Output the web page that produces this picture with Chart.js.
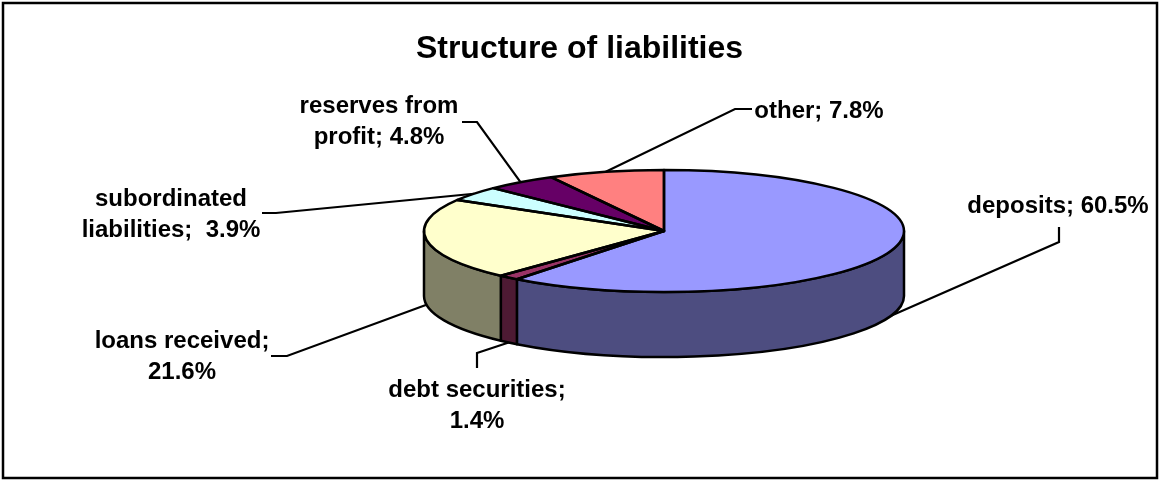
<!DOCTYPE html>
<html>
<head>
<meta charset="utf-8">
<title>Structure of liabilities</title>
<script src="https://cdn.jsdelivr.net/npm/chart.js@4/dist/chart.umd.min.js"></script>
<style>
  html, body { margin: 0; padding: 0; background: #fff; }
  canvas { display: block; }
</style>
</head>
<body>
<canvas id="pieChart" width="1159" height="480"></canvas>
<script>
// chart data
const categories = ['deposits', 'debt securities', 'loans received', 'subordinated liabilities', 'reserves from profit', 'other'];
const shares = [60.5, 1.4, 21.6, 3.9, 4.8, 7.8];
const labelLines = [
    ['deposits; 60.5%'],
    ['debt securities;', '1.4%'],
    ['loans received;', '21.6%'],
    ['subordinated', 'liabilities;  3.9%'],
    ['reserves from', 'profit; 4.8%'],
    ['other; 7.8%']
];

// styles
const topColors = ['#9999FF', '#993366', '#FFFFCC', '#CCFFFF', '#660066', '#FF8080'];
const sideColors = ['#4D4D80', '#4D1A33', '#808066', '#668080', '#330033', '#804040'];

// 3d pie geometry (top ellipse + wall depth)
const geo = { cx: 664, cy: 231, rx: 240, ry: 61, depth: 65 };

// label boxes: text centre, first baseline, leader elbow and leader end near text
const labelPos = [
    { x: 1058, y: 213, elbow: [1059, 242], end: [1059, 227] },
    { x: 477, y: 397, elbow: [477, 353], end: [477, 368] },
    { x: 182, y: 348, elbow: [287, 356], end: [271, 356] },
    { x: 171, y: 206, elbow: [276, 213], end: [262, 213] },
    { x: 379, y: 113, elbow: [477, 122], end: [462, 122] },
    { x: 819, y: 118, elbow: [735, 109], end: [752, 109] }
];

const FONT = '"Liberation Sans", Arial, Helvetica, sans-serif';
Chart.defaults.font.family = FONT;

function ellipsePoint(a, dy) {
    return [geo.cx + geo.rx * Math.cos(a), geo.cy + dy + geo.ry * Math.sin(a)];
}

const pie3d = {
    id: 'pie3d',
    beforeDatasetsDraw(chart) {
        const ctx = chart.ctx;
        const arcs = chart.getDatasetMeta(0).data;

        // front walls (only the lower half of the ellipse is visible)
        ctx.save();
        ctx.lineWidth = 2.5;
        ctx.strokeStyle = '#000';
        ctx.lineJoin = 'round';
        arcs.forEach((arc, i) => {
            const s = arc.startAngle, e = arc.endAngle;
            [-2 * Math.PI, 0, 2 * Math.PI].forEach(k => {
                const a = Math.max(s, k), b = Math.min(e, k + Math.PI);
                if (a >= b) return;
                ctx.beginPath();
                ctx.ellipse(geo.cx, geo.cy, geo.rx, geo.ry, 0, a, b);
                ctx.ellipse(geo.cx, geo.cy + geo.depth, geo.rx, geo.ry, 0, b, a, true);
                ctx.closePath();
                ctx.fillStyle = sideColors[i];
                ctx.fill();
                ctx.stroke();
            });
        });
        ctx.restore();

        // squash the library's round pie into the top ellipse
        const { x, y, outerRadius } = arcs[0];
        ctx.save();
        ctx.translate(geo.cx, geo.cy);
        ctx.scale(geo.rx / outerRadius, geo.ry / outerRadius);
        ctx.translate(-x, -y);
    },
    afterDatasetsDraw(chart) {
        const ctx = chart.ctx;
        ctx.restore();
        const arcs = chart.getDatasetMeta(0).data;

        // slice outlines on the top face, drawn unscaled so width stays even
        ctx.save();
        ctx.lineWidth = 2.5;
        ctx.strokeStyle = '#000';
        ctx.lineJoin = 'round';
        arcs.forEach(arc => {
            ctx.beginPath();
            ctx.moveTo(geo.cx, geo.cy);
            ctx.ellipse(geo.cx, geo.cy, geo.rx, geo.ry, 0, arc.startAngle, arc.endAngle);
            ctx.closePath();
            ctx.stroke();
        });

        // leader lines and labels
        ctx.lineWidth = 2.2;
        ctx.lineJoin = 'miter';
        arcs.forEach((arc, i) => {
            const mid = (arc.startAngle + arc.endAngle) / 2;
            const anchor = ellipsePoint(mid, Math.sin(mid) > 0 ? geo.depth : 0);
            const p = labelPos[i];
            ctx.beginPath();
            ctx.moveTo(anchor[0], anchor[1]);
            ctx.lineTo(p.elbow[0], p.elbow[1]);
            ctx.lineTo(p.end[0], p.end[1]);
            ctx.stroke();

            ctx.fillStyle = '#000';
            ctx.font = 'bold 24px ' + FONT;
            ctx.textAlign = 'center';
            ctx.textBaseline = 'alphabetic';
            labelLines[i].forEach((line, j) => {
                ctx.fillText(line, p.x, p.y + j * 31);
            });
        });
        ctx.restore();
    },
    afterDraw(chart) {
        const ctx = chart.ctx;
        ctx.save();
        ctx.lineWidth = 2.5;
        ctx.strokeStyle = '#000';
        ctx.strokeRect(3, 3, 1154, 475);
        ctx.restore();
    }
};

const ctx = document.getElementById('pieChart').getContext('2d');
const pieChart = new Chart(ctx, {
    type: 'pie',
    data: {
        labels: categories,
        datasets: [{
            data: shares,
            backgroundColor: topColors,
            borderWidth: 0,
            clip: false
        }]
    },
    options: {
        responsive: false,
        animation: false,
        events: [],
        layout: { padding: 10 },
        plugins: {
            legend: { display: false },
            tooltip: { enabled: false },
            title: {
                display: true,
                text: 'Structure of liabilities',
                color: '#000',
                font: { size: 32, weight: 'bold' },
                padding: { top: 20, bottom: 10 }
            }
        }
    },
    plugins: [pie3d]
});
</script>
</body>
</html>
